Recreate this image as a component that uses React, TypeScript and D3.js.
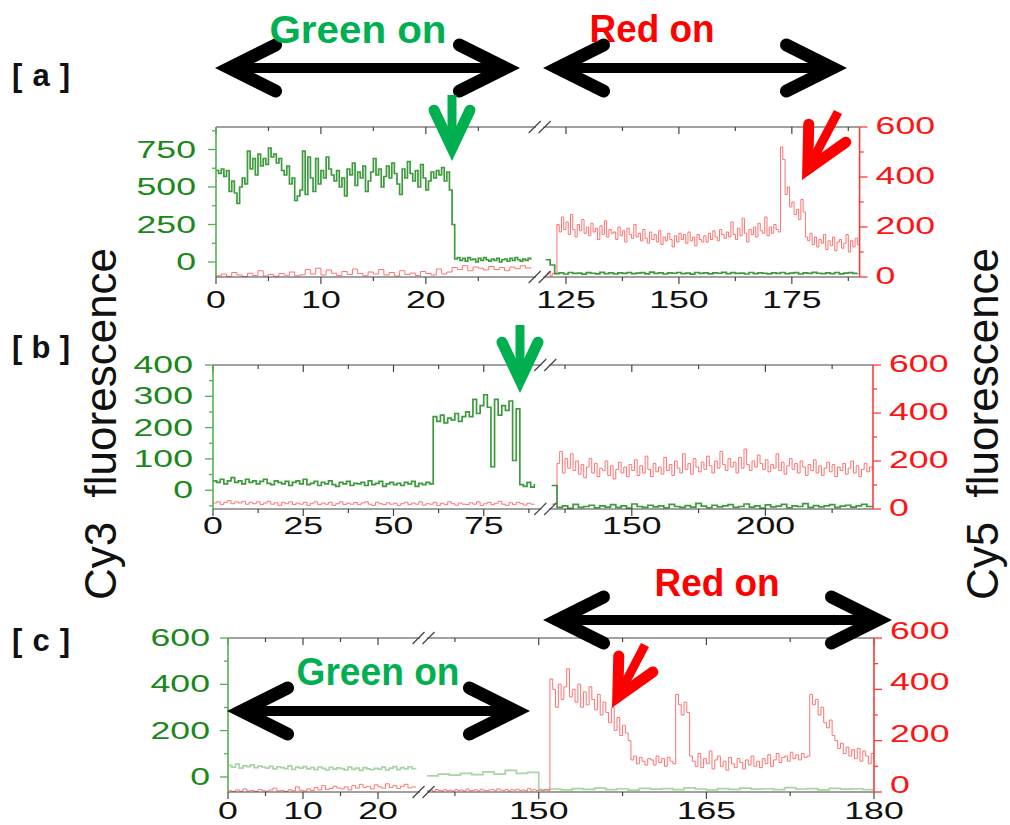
import React, { useRef, useEffect } from "react"
import * as d3 from "d3"

// ---- panel a ----
// Cy3 (green) before the break, t = 0 .. 30 s every 0.25 s
const aGreenLeft = [
  610, 590, 620, 570, 610, 470, 540, 460,
  390, 500, 560, 520, 740, 620, 690, 580,
  720, 640, 690, 650, 760, 700, 720, 660,
  690, 610, 580, 640, 520, 560, 410, 440,
  480, 740, 450, 700, 560, 470, 690, 520,
  610, 560, 700, 620, 580, 540, 610, 500,
  560, 440, 620, 580, 660, 510, 600, 560,
  640, 470, 540, 600, 690, 580, 620, 500,
  570, 640, 560, 660, 590, 520, 450, 620,
  560, 670, 590, 540, 610, 500, 650, 560,
  480, 540, 600, 560, 610, 580, 630, 540,
  600, 480, 250, 20, 30, 10, 25, 5,
  30, 15, 20, 0, 25, 10, 30, 15,
  5, 20, 10, 25, 0, 15, 20, 5,
  25, 10, 30, 15, 5, 20, 10, 25,
  15,
]
// Cy5 (red) before the break, t = 0 .. 30 s every 0.5 s
const aRedLeft = [
  5, 12, 3, 18, 8, 2, 15, 6, 25, 4,
  10, 3, 14, 7, 20, 5, 9, 30, 12, 35,
  8, 28, 15, 6, 22, 10, 32, 14, 5, 20,
  12, 30, 8, 18, 4, 25, 10, 16, 6, 22,
  14, 8, 32, 12, 20, 38, 30, 45, 25, 40,
  35, 28, 42, 30, 38, 25, 40, 33, 45, 36,
  40,
]
// after the break, green t = 120.5 .. 189.5 every 1 s
const aGreenRight = [
  15, -20, -78, -72, -80, -70, -76, -74, -81, -71,
  -75, -79, -69, -77, -73, -80, -72, -76, -70, -78,
  -74, -71, -79, -68, -76, -73, -80, -72, -75, -70,
  -77, -74, -81, -70, -76, -72, -79, -73, -75, -69,
  -78, -71, -76, -74, -80, -70, -77, -73, -75, -79,
  -72, -76, -70, -78, -74, -71, -80, -73, -76, -69,
  -75, -78, -72, -77, -70, -79, -74, -71, -76, -73,
]
// after the break, red t = 120.5 .. 190 every 0.5 s
const aRedRight = [
  10, 20, 5, 15, 12, 210, 180, 240, 190, 220,
  170, 250, 190, 160, 210, 185, 230, 175, 200, 165,
  215, 180, 195, 150, 205, 170, 225, 160, 190, 175,
  180, 150, 200, 165, 185, 140, 195, 170, 155, 210,
  160, 175, 145, 190, 155, 135, 180, 150, 170, 140,
  185, 130, 160, 145, 175, 150, 120, 165, 140, 175,
  150, 170, 135, 180, 145, 160, 125, 170, 150, 140,
  165, 140, 175, 150, 185, 160, 145, 190, 170, 155,
  180, 160, 220, 170, 150, 195, 165, 235, 175, 140,
  190, 170, 200, 160, 215, 185, 175, 240, 165, 200,
  175, 210, 190, 180, 520, 470, 330, 360, 280, 300,
  250, 270, 230, 310, 260, 160, 145, 175, 130, 160,
  120, 150, 135, 170, 110, 145, 125, 160, 105, 140,
  150, 115, 135, 170, 100, 145, 120, 155, 130, 150,
]

// ---- panel b ----
// green t = 0 .. 89 every 1 s
const bGreenLeft = [
  30, 25, 35, 20, 30, 40, 25, 30, 20, 35,
  25, 30, 20, 28, 35, 22, 18, 30, 25, 20,
  28, 15, 25, 30, 20, 35, 18, 22, 28, 15,
  25, 20, 30, 18, 12, 25, 20, 28, 15, 22,
  20, 25, 15, 30, 18, 22, 28, 12, 20, 25,
  18, 22, 15, 25, 20, 28, 12, 22, 18, 25,
  20, 235, 220, 240, 215, 230, 225, 245, 220, 235,
  250, 235, 290, 245, 270, 305, 265, 75, 290, 240,
  270, 255, 285, 95, 260, 18, 12, 25, 10, 20,
]
const bRedLeft = [
  25, 30, 18, 28, 35, 22, 30, 25, 32, 20,
  28, 22, 30, 18, 25, 32, 20, 26, 15, 28,
  22, 30, 18, 25, 20, 28, 15, 24, 30, 18,
  25, 20, 28, 15, 22, 30, 18, 24, 20, 27,
  18, 25, 30, 20, 15, 28, 22, 18, 26, 20,
  24, 15, 22, 28, 18, 25, 20, 30, 16, 22,
  20, 28, 15, 24, 18, 30, 22, 16, 25, 20,
  18, 26, 20, 30, 15, 22, 28, 18, 24, 32,
  20, 15, 26, 18, 28, 22, 16, 24, 20, 18,
]
// green t = 120 .. 240 every 2 s
const bGreenRight = [
  15, -55, -50, -58, -45, -55, -52, -48, -56, -50,
  -54, -46, -55, -50, -57, -44, -52, -55, -48, -53,
  -50, -56, -45, -52, -55, -49, -54, -42, -51, -56,
  -48, -53, -50, -46, -55, -52, -44, -54, -50, -57,
  -47, -53, -51, -45, -56, -50, -52, -43, -55, -49,
  -53, -50, -46, -55, -51, -48, -54, -50, -45, -52,
  -50,
]
// red t = 120 .. 240 every 1 s
const bRedRight = [
  20, 22, 190, 240, 150, 210, 170, 230, 160, 200,
  145, 185, 130, 175, 210, 150, 190, 135, 170, 160,
  200, 140, 180, 125, 165, 195, 150, 175, 135, 185,
  160, 205, 140, 180, 150, 220, 165, 135, 190, 155,
  175, 145, 215, 160, 185, 140, 200, 170, 150, 230,
  165, 190, 145, 210, 175, 155, 195, 165, 220, 180,
  150, 200, 170, 240, 185, 160, 210, 175, 195, 150,
  215, 170, 250, 185, 160, 200, 175, 225, 190, 165,
  205, 155, 185, 170, 230, 160, 195, 145, 180, 210,
  165, 190, 150, 200, 175, 140, 185, 160, 205, 150,
  180, 140, 170, 195, 155, 185, 135, 175, 160, 190,
  145, 170, 200, 150, 180, 135, 165, 190, 155, 175,
  160,
]

// ---- panel c ----
// green t = 0 .. 25 every 0.5 s
const cGreenLeft = [
  50, 42, 55, 38, 48, 45, 52, 40, 47, 43,
  38, 46, 35, 44, 40, 36, 48, 33, 42, 38,
  45, 35, 40, 32, 43, 37, 30, 41, 34, 39,
  36, 30, 42, 33, 38, 28, 40, 35, 31, 37,
  34, 42, 30, 38, 45, 32, 40, 35, 44, 36,
  38,
]
const cRedLeft = [
  5, 2, 8, 3, 12, 4, 6, 2, 10, 5,
  3, 8, 15, 4, 6, 2, 9, 5, 20, 7,
  4, 12, 6, 18, 8, 25, 10, 14, 22, 16,
  12, 20, 8, 25, 15, 30, 18, 22, 12, 28,
  20, 15, 32, 18, 25, 14, 22, 30, 16, 20,
  18,
]
// green t = 140 .. 180 every 1 s
const cGreenRight = [
  5, 12, 8, 15, 10, 22, 12, 28, 15, 20,
  -55, -52, -56, -50, -54, -48, -55, -51, -57, -49,
  -53, -50, -55, -47, -52, -56, -50, -54, -48, -53,
  -51, -55, -46, -52, -50, -56, -49, -53, -51, -55,
  -50,
]
// red t = 140 .. 180 every 0.25 s
const cRedRight = [
  5, 8, 3, 10, 6, 4, 9, 5,
  7, 3, 10, 6, 8, 4, 12, 5,
  6, 9, 4, 11, 7, 5, 8, 10,
  5, 12, 8, 6, 10, 4, 9, 7,
  11, 6, 8, 5, 14, 7, 10, 6,
  8, 5, 9, 6, 440, 400, 330, 420,
  360, 410, 480, 370, 400, 350, 420, 330,
  390, 340, 410, 360, 320, 380, 300, 350,
  310, 270, 330, 240, 290, 220, 260, 230,
  200, 125, 140, 110, 135, 120, 105, 130,
  125, 105, 140, 115, 130, 100, 135, 120,
  110, 380, 340, 300, 350, 310, 140, 120,
  100, 150, 95, 130, 110, 160, 90, 125,
  140, 100, 120, 85, 135, 110, 95, 130,
  115, 90, 125, 105, 140, 100, 120, 95,
  130, 110, 145, 100, 125, 150, 115, 135,
  140, 120, 155, 130, 145, 125, 150, 135,
  140, 380, 340, 360, 300, 330, 270, 250,
  280, 220, 200, 170, 190, 150, 175, 140,
  165, 130, 170, 120, 160, 140, 110, 150,
  130,
]

// tick values
const aGreenTicks = [0, 250, 500, 750]
const bGreenTicks = [0, 100, 200, 300, 400]
const cGreenTicks = [0, 200, 400, 600]
const redTicks = [0, 200, 400, 600]
const aTimeLeft = [0, 10, 20]
const aTimeRight = [125, 150, 175]
const bTimeLeft = [0, 25, 50, 75]
const bTimeRight = [150, 200]
const cTimeLeft = [0, 10, 20]
const cTimeRight = [150, 165, 180]

const GREEN = "#3d9a3d"
const GREEN_PALE = "#a9d4a4"
const RED = "#ff7272"
const FONT = "'Liberation Sans', Arial, Helvetica, sans-serif"

const panels = [
  {
    key: "a", top: 127, bottom: 277,
    xl: [0, 30.5], xlr: [216, 536], xr: [120, 190], xrr: [543.4, 859.6],
    gDomain: [-100, 900], gTicks: aGreenTicks, gMinor: 125,
    tl: aTimeLeft, tlMinor: 5, tr: aTimeRight, trMinor: 12.5,
    labelY: 308, gGap: 20, rShift: 7,
    traces: [
      { v: aRedLeft, t0: 0, dt: 0.5, side: "L", ax: "R", color: RED, w: 1 },
      { v: aGreenLeft, t0: 0, dt: 0.25, side: "L", ax: "G", color: GREEN, w: 1.7 },
      { v: aRedRight, t0: 120.5, dt: 0.5, side: "R", ax: "R", color: RED, w: 1 },
      { v: aGreenRight, t0: 120.5, dt: 1, side: "R", ax: "G", color: GREEN, w: 1.7 },
    ],
  },
  {
    key: "b", top: 365, bottom: 509,
    xl: [0, 91], xlr: [213, 541.5], xr: [119, 240.3], xrr: [549, 873],
    gDomain: [-60, 400], gTicks: bGreenTicks, gMinor: 50,
    tl: bTimeLeft, tlMinor: 12.5, tr: bTimeRight, trMinor: 25,
    labelY: 534, gGap: 20, rShift: 7,
    traces: [
      { v: bRedLeft, t0: 0, dt: 1, side: "L", ax: "R", color: RED, w: 1 },
      { v: bGreenLeft, t0: 0, dt: 1, side: "L", ax: "G", color: GREEN, w: 1.7 },
      { v: bRedRight, t0: 120, dt: 1, side: "R", ax: "R", color: RED, w: 1 },
      { v: bGreenRight, t0: 120, dt: 2, side: "R", ax: "G", color: GREEN, w: 1.7 },
    ],
  },
  {
    key: "c", top: 638, bottom: 792,
    xl: [0, 25.6], xlr: [228, 420], xr: [140, 180], xrr: [427, 874],
    gDomain: [-65, 600], gTicks: cGreenTicks, gMinor: 100,
    tl: cTimeLeft, tlMinor: 5, tr: cTimeRight, trMinor: 7.5,
    labelY: 819, gGap: 18, rShift: 1,
    traces: [
      { v: cRedLeft, t0: 0, dt: 0.5, side: "L", ax: "R", color: RED, w: 1 },
      { v: cGreenLeft, t0: 0, dt: 0.5, side: "L", ax: "G", color: GREEN_PALE, w: 1.7 },
      { v: cGreenRight, t0: 140, dt: 1, side: "R", ax: "G", color: GREEN_PALE, w: 1.7 },
      { v: cRedRight, t0: 140, dt: 0.25, side: "R", ax: "R", color: RED, w: 1 },
    ],
  },
]

const tickLabel = (g, x, y, txt, anchor, color) => {
  g.append("text")
    .attr("transform", `translate(${x},${y}) scale(1.55,1)`)
    .attr("text-anchor", anchor)
    .attr("font-family", FONT)
    .attr("font-size", 23)
    .attr("fill", color)
    .text(txt)
}

const drawPanel = (svg, defs, p) => {
  const g = svg.append("g")
  const xl = d3.scaleLinear().domain(p.xl).range(p.xlr)
  const xr = d3.scaleLinear().domain(p.xr).range(p.xrr)
  const yg = d3.scaleLinear().domain(p.gDomain).range([p.bottom, p.top])
  const yr = d3.scaleLinear().domain([0, 600]).range([p.bottom, p.top])
  const x0 = p.xlr[0], x1 = p.xrr[1]

  // clip each side of the broken axis
  ;[["L", p.xlr], ["R", p.xrr]].forEach(([s, r]) => {
    defs.append("clipPath").attr("id", `clip-${p.key}-${s}`)
      .append("rect").attr("x", r[0]).attr("y", p.top - 1)
      .attr("width", r[1] - r[0]).attr("height", p.bottom - p.top + 2)
  })

  p.traces.forEach(tr => {
    const x = tr.side === "L" ? xl : xr
    const y = tr.ax === "G" ? yg : yr
    const line = d3.line().x((d, i) => x(tr.t0 + i * tr.dt)).y(d => y(d)).curve(d3.curveStepAfter)
    g.append("path").datum(tr.v).attr("d", line)
      .attr("fill", "none").attr("stroke", tr.color).attr("stroke-width", tr.w)
      .attr("clip-path", `url(#clip-${p.key}-${tr.side})`)
  })

  // top / bottom frame, broken
  const frame = "#444"
  ;[p.top, p.bottom].forEach(yy => {
    g.append("line").attr("x1", x0).attr("x2", p.xlr[1]).attr("y1", yy).attr("y2", yy).attr("stroke", frame).attr("stroke-width", 1.2)
    g.append("line").attr("x1", p.xrr[0]).attr("x2", x1).attr("y1", yy).attr("y2", yy).attr("stroke", frame).attr("stroke-width", 1.2)
    const xc = (p.xlr[1] + p.xrr[0]) / 2
    ;[-5, 5].forEach(o => {
      g.append("line").attr("x1", xc + o - 6).attr("y1", yy + 6).attr("x2", xc + o + 6).attr("y2", yy - 6)
        .attr("stroke", frame).attr("stroke-width", 1.2)
    })
  })

  // time ticks
  const timeTicks = (scale, major, minorStep) => {
    const [d0, d1] = scale.domain()
    const [r0, r1] = scale.range()
    d3.range(Math.ceil(d0 / minorStep) * minorStep, d1 + 1e-6, minorStep).forEach(t => {
      const xx = scale(t)
      if (xx < r0 - 0.5 || xx > r1 + 0.5) return
      if (r1 !== x1 && xx > r1 - 6) return
      if (r0 !== x0 && xx < r0 + 6) return
      const isMajor = major.some(m => Math.abs(m - t) < 1e-6)
      const len = isMajor ? 7 : 4
      g.append("line").attr("x1", xx).attr("x2", xx).attr("y1", p.bottom).attr("y2", p.bottom + len).attr("stroke", frame).attr("stroke-width", 1.2)
      g.append("line").attr("x1", xx).attr("x2", xx).attr("y1", p.top).attr("y2", p.top + len).attr("stroke", frame).attr("stroke-width", 1.2)
    })
    major.forEach(t => tickLabel(g, scale(t), p.labelY, String(t), "middle", "#111"))
  }
  timeTicks(xl, p.tl, p.tlMinor)
  timeTicks(xr, p.tr, p.trMinor)

  // left (Cy3) axis
  const gAxis = "#52b152"
  g.append("line").attr("x1", x0).attr("x2", x0).attr("y1", p.top).attr("y2", p.bottom).attr("stroke", gAxis).attr("stroke-width", 1.6)
  d3.range(Math.ceil(p.gDomain[0] / p.gMinor) * p.gMinor, p.gDomain[1] + 1e-6, p.gMinor).forEach(v => {
    const isMajor = p.gTicks.includes(v)
    g.append("line").attr("x1", x0).attr("x2", x0 - (isMajor ? 8 : 4)).attr("y1", yg(v)).attr("y2", yg(v)).attr("stroke", gAxis).attr("stroke-width", 1.3)
  })
  p.gTicks.forEach(v => tickLabel(g, x0 - p.gGap, yg(v) + 8, String(v), "end", "#1b881b"))

  // right (Cy5) axis
  const rAxis = "#ff3a3a"
  g.append("line").attr("x1", x1).attr("x2", x1).attr("y1", p.top).attr("y2", p.bottom).attr("stroke", rAxis).attr("stroke-width", 1.6)
  d3.range(0, 600 + 1e-6, 100).forEach(v => {
    const isMajor = redTicks.includes(v)
    g.append("line").attr("x1", x1).attr("x2", x1 + (isMajor ? 8 : 4)).attr("y1", yr(v)).attr("y2", yr(v)).attr("stroke", rAxis).attr("stroke-width", 1.3)
  })
  redTicks.forEach(v => tickLabel(g, x1 + 16, yr(v) + p.rShift, String(v), "start", "#ff1414"))
}

// chevron head at tip (tx,ty) pointing away from (sx,sy); returns the point the shaft should reach
const head = (g, sx, sy, tx, ty, arms, color, headW) => {
  const len = Math.hypot(sx - tx, sy - ty)
  const ux = (sx - tx) / len, uy = (sy - ty) / len
  const a = arms[0]
  const al = Math.hypot(a[0] - tx, a[1] - ty)
  const cos = ((a[0] - tx) * ux + (a[1] - ty) * uy) / al
  const half = Math.acos(Math.min(1, Math.max(-1, cos)))
  const m = headW / 2 / Math.sin(half)
  const vx = tx + ux * m, vy = ty + uy * m
  g.append("path")
    .attr("d", `M${a[0] + ux * m},${a[1] + uy * m}L${vx},${vy}L${arms[1][0] + ux * m},${arms[1][1] + uy * m}`)
    .attr("fill", "none").attr("stroke", color).attr("stroke-width", headW)
    .attr("stroke-linejoin", "miter").attr("stroke-miterlimit", 10).attr("stroke-linecap", "round")
  return [vx, vy]
}

const arrow = (g, sx, sy, tx, ty, arms, color, shaftW, headW) => {
  const [vx, vy] = head(g, sx, sy, tx, ty, arms, color, headW)
  g.append("line").attr("x1", sx).attr("y1", sy).attr("x2", vx).attr("y2", vy)
    .attr("stroke", color).attr("stroke-width", shaftW)
}

const doubleArrow = (g, xa, xb, y, dx, dy) => {
  const mid = (xa + xb) / 2
  const [la] = head(g, mid, y, xa, y, [[xa + dx, y - dy], [xa + dx, y + dy]], "#000", 13)
  const [lb] = head(g, mid, y, xb, y, [[xb - dx, y - dy], [xb - dx, y + dy]], "#000", 13)
  g.append("line").attr("x1", la).attr("x2", lb).attr("y1", y).attr("y2", y)
    .attr("stroke", "#000").attr("stroke-width", 10)
}

const label = (g, x, y, txt, color, len) => {
  g.append("text").attr("x", x).attr("y", y).attr("text-anchor", "middle")
    .attr("font-family", FONT).attr("font-weight", "bold").attr("font-size", 38)
    .attr("fill", color).attr("textLength", len).attr("lengthAdjust", "spacingAndGlyphs")
    .text(txt)
}

const App = () => {
  const ref = useRef(null)

  useEffect(() => {
    const svg = d3.select(ref.current)
    svg.selectAll("*").remove()
    const defs = svg.append("defs")
    panels.forEach(p => drawPanel(svg, defs, p))

    const g = svg.append("g")
    // panel letters
    ;[["[ a ]", 86], ["[ b ]", 358], ["[ c ]", 651]].forEach(([t, y]) => {
      g.append("text").attr("x", 12).attr("y", y).attr("font-family", FONT)
        .attr("font-weight", "bold").attr("font-size", 31).attr("fill", "#111")
        .attr("textLength", 58).attr("lengthAdjust", "spacing")
        .attr("xml:space", "preserve").text(t)
    })

    // axis titles
    g.append("text").attr("transform", "translate(116,424) rotate(-90)")
      .attr("text-anchor", "middle").attr("font-family", FONT).attr("font-size", 44)
      .attr("fill", "#111").attr("xml:space", "preserve").text("Cy3  fluorescence")
    g.append("text").attr("transform", "translate(998,424) rotate(-90)")
      .attr("text-anchor", "middle").attr("font-family", FONT).attr("font-size", 44)
      .attr("fill", "#111").attr("xml:space", "preserve").text("Cy5  fluorescence")

    // excitation periods
    doubleArrow(g, 215, 520, 68, 46, 23)
    doubleArrow(g, 543, 847, 68, 46, 23)
    label(g, 358, 43, "Green on", "#00b050", 177)
    label(g, 652, 42, "Red on", "#ff0000", 125)
    doubleArrow(g, 543, 892, 620, 46, 23)
    label(g, 717, 596, "Red on", "#ff0000", 125)
    doubleArrow(g, 227, 530, 711, 46, 23)
    label(g, 378, 685, "Green on", "#00b050", 163)

    // bleaching markers
    arrow(g, 452, 95, 452, 161, [[434, 123], [470, 123]], "#00b050", 9, 11)
    arrow(g, 520, 325, 520, 393, [[502, 355], [538, 355]], "#00b050", 9, 11)
    arrow(g, 838, 112, 802, 180, [[803, 135], [840, 153]], "#ff0000", 9, 11)
    arrow(g, 645, 645, 612, 708, [[613, 667], [647, 683]], "#ff0000", 9, 11)
  }, [])

  return (
    <svg ref={ref} width={1010} height={825}
      style={{ position: "absolute", left: 0, top: 0, background: "#fff" }} />
  )
}

export default App
